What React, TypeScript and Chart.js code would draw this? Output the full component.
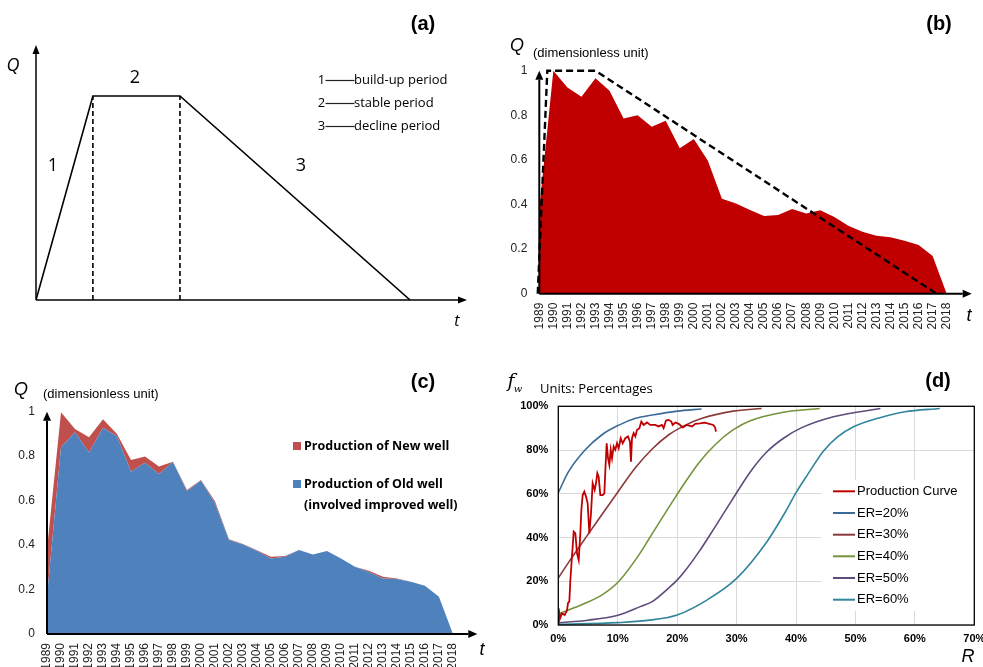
import React, { useEffect, useRef } from "react";
import { Chart, registerables } from "chart.js";
Chart.register(...registerables);

const W = 983;
const H = 667;
const ARIAL = '"Liberation Sans", Arial, sans-serif';
const SANS = '"Open Sans", "Noto Sans", sans-serif';

// ---------- Panel (a): schematic ----------
const tA = [0, 13.2, 33.4, 86.8];
const qA = [0, 0.8, 0.8, 0];
const phaseNumbers = ["1", "2", "3"];
const phaseNames = ["build-up period", "stable period", "decline period"];

// ---------- Panel (b) ----------
const years = [
  1989, 1990, 1991, 1992, 1993, 1994, 1995, 1996, 1997, 1998, 1999, 2000, 2001, 2002, 2003,
  2004, 2005, 2006, 2007, 2008, 2009, 2010, 2011, 2012, 2013, 2014, 2015, 2016, 2017, 2018,
];
const qB = [
  0.38, 1.0, 0.925, 0.883, 0.966, 0.91, 0.786, 0.8, 0.749, 0.776, 0.652, 0.694, 0.596, 0.426, 0.405,
  0.375, 0.348, 0.353, 0.38, 0.36, 0.374, 0.344, 0.305, 0.278, 0.26, 0.253, 0.238, 0.218, 0.169, 0,
];
const trendT = [1988.89, 1989.57, 1993, 2017.28];
const trendQ = [0, 1, 1, 0];

// ---------- Panel (c) ----------
const oldWell = [
  0.168, 0.84, 0.907, 0.817, 0.928, 0.89, 0.73, 0.77, 0.72, 0.774, 0.642, 0.69, 0.588, 0.423, 0.403,
  0.375, 0.34, 0.348, 0.378, 0.358, 0.373, 0.34, 0.303, 0.279, 0.25, 0.247, 0.235, 0.217, 0.168, 0,
];
const newWell = [
  0.212, 0.157, 0.015, 0.068, 0.038, 0.01, 0.053, 0.028, 0.033, 0.001, 0.006, 0.003, 0.009, 0.003, 0.002,
  0.002, 0.008, 0.003, 0, 0, 0, 0, 0, 0.006, 0.008, 0.003, 0, 0, 0, 0,
];
const cLegend = ["Production of New well", "Production of Old well", "(involved improved well)"];

// ---------- Panel (d) ----------
const prodR = [
  0, 0.06, 0.29, 0.62, 1.07, 1.46, 1.63, 1.86, 2.03, 2.3, 2.59, 2.87, 3.15, 3.43, 3.71, 3.88, 4.1, 4.38,
  4.66, 4.94, 5.22, 5.5, 5.78, 6.12, 6.34, 6.57, 6.79, 7.07, 7.47, 7.75, 7.92, 8.14, 8.37, 8.59, 8.82,
  9.04, 9.32, 9.6, 9.88, 10.16, 10.5, 10.83, 11.28, 11.73, 12.06, 12.23, 12.4, 12.68, 12.96, 13.24,
  13.64, 13.97, 14.36, 14.92, 15.48, 16.32, 16.88, 17.44, 17.72, 18.12, 18.57, 19.02, 19.24, 19.69,
  20.25, 20.93, 21.65, 22.49, 23.06, 23.84, 24.68, 25.53, 26.08, 26.37, 26.54,
];
const prodF = [
  0.8, 7.6, 3, 5.3, 4.6, 6.6, 10, 10.8, 20.6, 31.2, 42.7, 41.9, 32.8, 29.7, 41.9, 52.6, 59.4, 61,
  58.7, 55.6, 41.9, 51, 64.8, 61.7, 64.8, 69.4, 67.8, 59.4, 59.4, 60.2, 70.9, 83.1, 76.2, 73.2, 80.1,
  76.2, 81.6, 80.1, 83.1, 80.8, 85.4, 83.1, 85.4, 86.2, 83.8, 74.7, 85.4, 87.7, 86.2, 89.2,
  90, 93, 91.5, 92.6, 91.5, 91.5, 90.8, 91.5, 90, 93.5, 93.8, 93, 91.5, 92.6,
  92, 90.4, 91.5, 90.8, 92, 92.2, 92.5, 91.9, 91.4, 90.4, 88.4,
];
const er20R = [0, 1.7, 4.5, 7.35, 10.2, 13, 15.8, 20, 24.1];
const er20F = [60.5, 70, 80, 87, 91.4, 94.5, 96, 97.8, 98.8];
const er30R = [0, 1.7, 4.5, 7.35, 10.2, 13, 15.8, 18.6, 21.4, 24.2, 29.4, 34.2];
const er30F = [21.5, 28.5, 39.5, 50.5, 61.5, 72, 80.5, 87, 91.4, 94.5, 97.8, 99];
const er40R = [0, 4.5, 7.5, 10.2, 13.8, 15.4, 19.35, 21.4, 23.8, 26.6, 29.4, 32.3, 37.9, 44];
const er40F = [5, 9.9, 14, 20, 33, 40, 57, 65.5, 74.7, 83, 89.2, 93.4, 97.3, 99];
const er50R = [0, 5, 10.2, 13.8, 15.8, 18.6, 20, 21.4, 23.8, 25, 26.6, 29.2, 32.3, 35.1, 37.9, 40.7, 46.3, 54.2];
const er50F = [1, 2.2, 4.6, 8.4, 10.7, 17, 20.5, 25, 34, 39, 45.8, 57, 70, 79.2, 85.4, 89.9, 95.2, 99];
const er60R = [0, 10, 15, 20, 25, 30, 35.1, 38.4, 40, 42, 44.6, 47, 49.6, 54.4, 58.3, 64.2];
const er60F = [0.3, 1.1, 2.1, 4.6, 11.4, 21.3, 38.1, 52.6, 60.5, 69, 79.5, 86, 90.5, 95, 97.5, 99];
const dNames = ["Production Curve", "ER=20%", "ER=30%", "ER=40%", "ER=50%", "ER=60%"];
const dColors = ["#C00000", "#3B6A96", "#8B3A3A", "#77933C", "#5F4B7A", "#31859C"];

// ---------- helpers ----------
function text(ctx: CanvasRenderingContext2D, s: string, x: number, y: number, font: string, align: CanvasTextAlign = "left", color = "#000") {
  ctx.save();
  ctx.font = font;
  ctx.fillStyle = color;
  ctx.textAlign = align;
  ctx.textBaseline = "middle";
  ctx.fillText(s, x, y);
  ctx.restore();
}

function arrow(ctx: CanvasRenderingContext2D, x1: number, y1: number, x2: number, y2: number, lw: number, len = 9, half = 4) {
  const ang = Math.atan2(y2 - y1, x2 - x1);
  const bx = x2 - len * Math.cos(ang);
  const by = y2 - len * Math.sin(ang);
  ctx.save();
  ctx.strokeStyle = "#000";
  ctx.fillStyle = "#000";
  ctx.lineWidth = lw;
  ctx.beginPath();
  ctx.moveTo(x1, y1);
  ctx.lineTo(bx, by);
  ctx.stroke();
  ctx.beginPath();
  ctx.moveTo(x2, y2);
  ctx.lineTo(bx + half * Math.sin(ang), by - half * Math.cos(ang));
  ctx.lineTo(bx - half * Math.sin(ang), by + half * Math.cos(ang));
  ctx.closePath();
  ctx.fill();
  ctx.restore();
}

const base = (padding: any) => ({
  responsive: false,
  animation: false as const,
  events: [] as any[],
  devicePixelRatio: 1,
  layout: { padding },
  plugins: { legend: { display: false }, tooltip: { enabled: false } },
});

const pts = (xs: number[], ys: number[]) => xs.map((x, i) => ({ x, y: ys[i] }));

// ---------- configs ----------
function configA() {
  const extras = {
    id: "extrasA",
    afterDraw(chart: any) {
      const { ctx, chartArea: a } = chart;
      arrow(ctx, a.left, a.bottom, a.right, a.bottom, 1.5, 9, 3.5);
      arrow(ctx, a.left, a.bottom, a.left, a.top, 1.5, 9, 3.5);
      text(ctx, "Q", 13, 66, `italic 18px ${SANS}`, "center");
      text(ctx, "t", 457, 321, `italic 16px ${SANS}`, "center");
      text(ctx, phaseNumbers[0], 53, 166, `18px ${SANS}`, "center");
      text(ctx, phaseNumbers[1], 135, 78, `18px ${SANS}`, "center");
      text(ctx, phaseNumbers[2], 301, 166, `18px ${SANS}`, "center");
      const rows = [80, 103, 126];
      phaseNames.forEach((n, i) => {
        text(ctx, phaseNumbers[i], 321.5, rows[i], `13px ${SANS}`, "center");
        ctx.save();
        ctx.strokeStyle = "#222";
        ctx.lineWidth = 1.2;
        ctx.beginPath();
        ctx.moveTo(325.5, rows[i] + 0.5);
        ctx.lineTo(354.5, rows[i] + 0.5);
        ctx.stroke();
        ctx.restore();
        text(ctx, n, 354, rows[i], `13px ${SANS}`);
      });
      text(ctx, "(a)", 423, 24, `bold 20px ${ARIAL}`, "center");
    },
  };
  return {
    type: "line",
    data: {
      datasets: [
        { data: pts(tA, qA), borderColor: "#000", borderWidth: 1.6, pointRadius: 0, tension: 0, fill: false },
        { data: [{ x: tA[1], y: 0 }, { x: tA[1], y: qA[1] }], borderColor: "#000", borderWidth: 1.6, borderDash: [5, 3], pointRadius: 0, fill: false },
        { data: [{ x: tA[2], y: 0 }, { x: tA[2], y: qA[2] }], borderColor: "#000", borderWidth: 1.6, borderDash: [5, 3], pointRadius: 0, fill: false },
      ],
    },
    options: {
      ...base({ left: 36, right: W - 467, top: 45, bottom: H - 300 }),
      scales: {
        x: { type: "linear", min: 0, max: 100, display: false },
        y: { type: "linear", min: 0, max: 1, display: false },
      },
    },
    plugins: [extras],
  };
}

function yearAxis(maxVal: number) {
  return {
    type: "linear",
    min: 1989,
    max: maxVal,
    afterFit: (s: any) => {
      s.height = 40;
      s.paddingLeft = 0;
      s.paddingRight = 0;
    },
    grid: { display: false, drawTicks: false },
    border: { display: false },
    ticks: {
      stepSize: 1,
      maxTicksLimit: 100,
      autoSkip: false,
      minRotation: 90,
      maxRotation: 90,
      padding: 9,
      color: "#222",
      font: { family: ARIAL, size: 12 },
      callback: (v: number) => (v <= 2018 ? String(v) : ""),
    },
  };
}

function qAxis() {
  return {
    type: "linear",
    min: 0,
    max: 1,
    afterFit: (s: any) => {
      s.width = 40;
    },
    grid: { display: false, drawTicks: false },
    border: { display: false },
    ticks: {
      stepSize: 0.2,
      padding: 12,
      color: "#222",
      font: { family: ARIAL, size: 12 },
      callback: (v: number) => String(Math.round(v * 10) / 10),
    },
  };
}

function configB() {
  const extras = {
    id: "extrasB",
    afterDraw(chart: any) {
      const { ctx, chartArea: a } = chart;
      arrow(ctx, a.left, a.bottom, a.right, a.bottom, 2, 9, 4);
      arrow(ctx, a.left, a.bottom, a.left, a.top, 2, 9, 4);
      text(ctx, "Q", 517, 46, `italic 18px ${ARIAL}`, "center");
      text(ctx, "(dimensionless unit)", 533, 53, `13px ${ARIAL}`);
      text(ctx, "t", 969, 316, `italic 18px ${ARIAL}`, "center");
      text(ctx, "(b)", 939, 24, `bold 20px ${ARIAL}`, "center");
    },
  };
  return {
    type: "line",
    data: {
      datasets: [
        { data: pts(trendT, trendQ), fill: false, borderColor: "#000", borderWidth: 2.4, borderDash: [7, 4], pointRadius: 0, tension: 0, clip: false, order: 0 },
        { data: pts(years, qB), fill: "origin", backgroundColor: "#C00000", borderColor: "rgba(0,0,0,0)", borderWidth: 0, pointRadius: 0, tension: 0, order: 1 },
      ],
    },
    options: {
      ...base({ left: 499.3, right: W - 971.7, top: 70.7, bottom: H - 293.7 - 40 }),
      scales: { x: yearAxis(2019.78), y: qAxis() },
    },
    plugins: [extras],
  };
}

function configC() {
  const extras = {
    id: "extrasC",
    afterDraw(chart: any) {
      const { ctx, chartArea: a } = chart;
      arrow(ctx, a.left, a.bottom, a.right, a.bottom, 2, 9, 4);
      arrow(ctx, a.left, a.bottom, a.left, a.top, 2, 9, 4);
      text(ctx, "Q", 21, 390, `italic 18px ${ARIAL}`, "center");
      text(ctx, "(dimensionless unit)", 43, 394.5, `13px ${ARIAL}`);
      text(ctx, "t", 482, 650, `italic 18px ${ARIAL}`, "center");
      text(ctx, "(c)", 423, 382, `bold 20px ${ARIAL}`, "center");
      ctx.save();
      ctx.fillStyle = "#C0504D";
      ctx.fillRect(293, 442, 8, 8);
      ctx.fillStyle = "#4F81BD";
      ctx.fillRect(293, 480, 8, 8);
      ctx.restore();
      text(ctx, cLegend[0], 304, 446, `bold 12.5px ${SANS}`);
      text(ctx, cLegend[1], 304, 484, `bold 12.5px ${SANS}`);
      text(ctx, cLegend[2], 304, 505, `bold 12.5px ${SANS}`);
    },
  };
  const y = { ...qAxis(), stacked: true };
  return {
    type: "line",
    data: {
      datasets: [
        { data: pts(years, oldWell), fill: "origin", backgroundColor: "#4F81BD", borderColor: "rgba(0,0,0,0)", borderWidth: 0, pointRadius: 0, tension: 0 },
        { data: pts(years, newWell), fill: "-1", backgroundColor: "#C0504D", borderColor: "rgba(0,0,0,0)", borderWidth: 0, pointRadius: 0, tension: 0 },
      ],
    },
    options: {
      ...base({ left: 7, right: W - 477.3, top: 411.7, bottom: H - 634 - 40 }),
      scales: { x: yearAxis(2019.74), y },
    },
    plugins: [extras],
  };
}

function configD() {
  const extras = {
    id: "extrasD",
    afterDraw(chart: any) {
      const { ctx, chartArea: a } = chart;
      ctx.save();
      ctx.fillStyle = "#fff";
      ctx.fillRect(821, 480, 152, 131);
      ctx.restore();
      const rows = [491.3, 513, 534.7, 556.3, 578, 599.7];
      dNames.forEach((n, i) => {
        ctx.save();
        ctx.strokeStyle = dColors[i];
        ctx.lineWidth = 2;
        ctx.beginPath();
        ctx.moveTo(833, rows[i]);
        ctx.lineTo(855, rows[i]);
        ctx.stroke();
        ctx.restore();
        text(ctx, n, 857, rows[i], `13px ${ARIAL}`);
      });
      ctx.save();
      ctx.strokeStyle = "#000";
      ctx.lineWidth = 1.3;
      ctx.strokeRect(a.left, a.top, a.right - a.left, a.bottom - a.top);
      ctx.restore();
      text(ctx, "f", 511, 382, `italic 19px "DejaVu Serif", serif`, "center");
      text(ctx, "w", 518, 389, `italic 10px "DejaVu Serif", serif`, "center");
      text(ctx, "Units: Percentages", 540, 389, `13px ${SANS}`);
      text(ctx, "R", 968, 657, `italic 18px ${ARIAL}`, "center");
      text(ctx, "(d)", 938, 381, `bold 20px ${ARIAL}`, "center");
    },
  };
  const mk = (R: number[], F: number[], color: string, width: number, smooth: boolean) => ({
    data: pts(R, F),
    borderColor: color,
    borderWidth: width,
    pointRadius: 0,
    fill: false,
    tension: 0,
    cubicInterpolationMode: smooth ? "monotone" : "default",
  });
  const tickFont = { family: ARIAL, size: 11, weight: "bold" };
  return {
    type: "line",
    data: {
      datasets: [
        mk(prodR, prodF, dColors[0], 1.8, false),
        mk(er20R, er20F, dColors[1], 1.6, true),
        mk(er30R, er30F, dColors[2], 1.6, true),
        mk(er40R, er40F, dColors[3], 1.6, true),
        mk(er50R, er50F, dColors[4], 1.6, true),
        mk(er60R, er60F, dColors[5], 1.6, true),
      ],
    },
    options: {
      ...base({ left: 508.3, right: W - 974.3, top: 406.3, bottom: H - 625 - 30 }),
      scales: {
        x: {
          type: "linear",
          min: 0,
          max: 70,
          afterFit: (s: any) => {
            s.height = 30;
            s.paddingLeft = 0;
            s.paddingRight = 0;
          },
          grid: { color: "#D9D9D9", drawTicks: false, lineWidth: 1 },
          border: { display: false },
          ticks: { stepSize: 10, maxTicksLimit: 20, padding: 7, color: "#000", font: tickFont, callback: (v: number) => v + "%" },
        },
        y: {
          type: "linear",
          min: 0,
          max: 100,
          afterFit: (s: any) => {
            s.width = 50;
          },
          grid: { color: "#D9D9D9", drawTicks: false, lineWidth: 1 },
          border: { display: false },
          ticks: { stepSize: 20, maxTicksLimit: 20, padding: 10, color: "#000", font: tickFont, callback: (v: number) => v + "%" },
        },
      },
    },
    plugins: [extras],
  };
}

function ChartCanvas({ make }: { make: () => any }) {
  const ref = useRef<HTMLCanvasElement>(null);
  useEffect(() => {
    const chart = new Chart(ref.current as HTMLCanvasElement, make());
    return () => chart.destroy();
  }, []);
  return (
    <canvas
      ref={ref}
      width={W}
      height={H}
      style={{ position: "absolute", left: 0, top: 0, width: W, height: H }}
    />
  );
}

export default function App() {
  return (
    <div
      style={{
        position: "fixed",
        left: 0,
        top: 0,
        width: W,
        height: H,
        overflow: "hidden",
        background: "#fff",
      }}
    >
      <ChartCanvas make={configA} />
      <ChartCanvas make={configB} />
      <ChartCanvas make={configC} />
      <ChartCanvas make={configD} />
    </div>
  );
}
